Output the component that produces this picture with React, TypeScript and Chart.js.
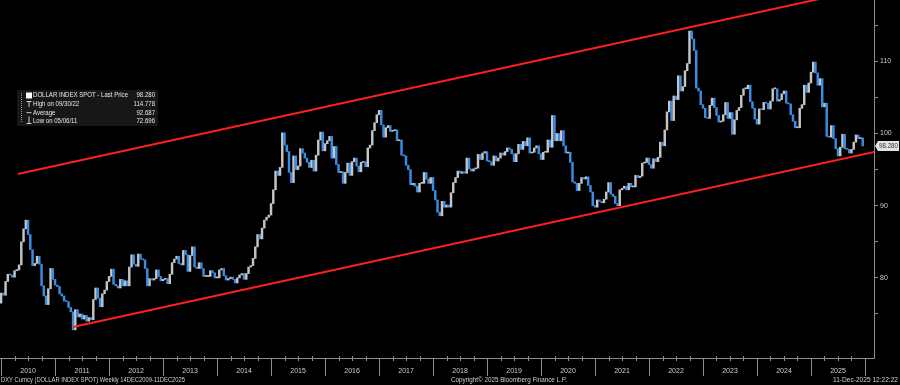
import React, { useEffect, useRef } from 'react';
import { Chart, registerables } from 'chart.js';

Chart.register(...registerables);

// Semi-monthly closes (mid-month, month-end) of DXY
const firstOpen = 76.2;
const dxy2009 = [76.5, 77.9];
const dxy2010 = [77.6, 79.5, 80.5, 80.4, 80.1, 81.0, 81.1, 81.8, 85.0, 86.8, 88.0, 86.0, 83.9, 81.7, 82.0, 83.0, 81.9, 78.9, 77.5, 76.3, 78.5, 81.3, 79.8, 79.0];
const dxy2011 = [78.8, 77.8, 77.5, 76.8, 76.7, 75.9, 75.3, 72.8, 75.6, 74.6, 75.0, 74.3, 74.8, 74.0, 74.5, 74.2, 77.0, 78.6, 77.2, 76.0, 77.8, 78.3, 79.5, 80.2];
const dxy2012 = [81.2, 79.1, 78.9, 78.6, 79.8, 78.9, 79.6, 78.9, 81.5, 83.2, 81.9, 81.6, 83.3, 82.6, 82.5, 81.3, 78.9, 79.9, 79.7, 79.9, 81.1, 80.2, 79.6, 79.8];
const dxy2013 = [79.9, 79.2, 80.5, 82.1, 82.6, 83.0, 82.0, 81.8, 83.8, 83.2, 80.9, 83.1, 84.3, 81.5, 81.3, 82.1, 81.3, 80.2, 80.2, 80.2, 81.0, 80.7, 80.0, 80.0];
const dxy2014 = [81.1, 81.3, 80.3, 79.7, 79.9, 80.1, 79.8, 79.3, 80.0, 80.4, 80.6, 79.8, 80.6, 81.5, 81.7, 82.7, 84.3, 86.0, 85.4, 86.9, 88.0, 88.4, 88.7, 90.3];
const dxy2015 = [92.2, 94.8, 94.2, 95.3, 100.1, 98.4, 97.5, 94.6, 93.2, 96.9, 95.0, 95.5, 97.9, 97.3, 96.6, 96.0, 95.3, 96.3, 94.8, 97.0, 99.1, 100.2, 97.6, 98.6];
const dxy2016 = [99.0, 99.6, 96.6, 98.2, 95.7, 94.6, 94.7, 93.1, 94.6, 95.9, 94.2, 96.1, 96.6, 95.5, 94.7, 96.0, 96.1, 95.4, 98.0, 98.4, 100.4, 101.5, 102.6, 103.2];
const dxy2017 = [101.2, 99.5, 100.8, 101.1, 100.3, 100.4, 100.5, 99.0, 99.1, 97.0, 96.9, 95.6, 95.0, 92.9, 93.1, 92.7, 91.9, 93.1, 93.1, 94.6, 93.7, 93.1, 93.9, 92.1];
const dxy2018 = [90.8, 89.1, 88.6, 90.6, 89.8, 90.1, 89.8, 91.8, 93.2, 93.9, 94.8, 94.5, 94.7, 94.5, 96.6, 95.1, 94.8, 95.1, 95.2, 97.1, 96.4, 97.3, 97.5, 96.2];
const dxy2019 = [96.1, 95.6, 96.9, 96.2, 96.6, 97.3, 97.0, 97.5, 98.0, 97.8, 97.2, 96.1, 97.2, 98.5, 97.8, 98.9, 98.3, 99.4, 97.3, 97.4, 98.0, 98.3, 97.2, 96.4];
const dxy2020 = [97.4, 97.4, 99.1, 98.1, 102.5, 99.0, 100.0, 99.0, 100.4, 98.3, 97.3, 97.4, 96.0, 93.3, 93.1, 92.1, 93.1, 93.9, 93.7, 94.0, 92.8, 91.9, 90.0, 89.8];
const dxy2021 = [90.8, 90.6, 90.4, 90.9, 91.9, 93.2, 91.6, 91.3, 90.3, 90.0, 92.2, 92.4, 92.7, 92.2, 93.1, 92.6, 92.6, 94.2, 93.9, 94.1, 95.9, 96.0, 96.6, 95.7];
const dxy2022 = [95.2, 96.5, 96.1, 96.7, 98.8, 98.3, 100.5, 103.0, 104.5, 101.8, 105.2, 104.7, 108.0, 105.9, 106.5, 108.7, 109.7, 114.2, 113.1, 111.5, 106.3, 105.9, 104.0, 103.5];
const dxy2023 = [102.2, 102.1, 103.9, 104.9, 103.6, 102.5, 101.6, 101.7, 102.6, 104.3, 102.1, 102.9, 99.9, 101.9, 103.2, 103.6, 105.3, 106.2, 106.2, 106.7, 104.4, 103.5, 102.0, 101.3];
const dxy2024 = [103.4, 103.3, 104.3, 104.2, 103.4, 104.5, 106.2, 106.2, 104.5, 104.7, 105.5, 105.9, 104.2, 104.1, 102.6, 101.7, 100.8, 100.8, 103.5, 104.0, 106.7, 105.7, 107.0, 108.5];
const dxy2025 = [109.9, 108.4, 106.7, 107.6, 103.7, 104.2, 99.6, 99.5, 101.1, 99.3, 97.9, 96.9, 98.1, 99.9, 97.9, 97.8, 97.3, 97.8, 98.8, 99.8, 99.3, 99.4, 98.28];

const seriesStart = 2009.958; // 15 Dec 2009 in fractional years
const seriesStep = 1 / 24;

const yearLabels = [2010, 2011, 2012, 2013, 2014, 2015, 2016, 2017, 2018, 2019, 2020, 2021, 2022, 2023, 2024, 2025];

const upperChannel = [
  { x: 2010.31, y: 94.4 },
  { x: 2026.17, y: 120.3 },
];
const lowerChannel = [
  { x: 2011.33, y: 73.2 },
  { x: 2026.17, y: 97.45 },
];

const legendLabels = ['DOLLAR INDEX SPOT - Last Price', 'High on 09/30/22', 'Average', 'Low on 05/06/11'];
const legendValues = ['98.280', '114.778', '92.687', '72.696'];
const lastPrice = 98.28;

const footerLeft = 'DXY Curncy (DOLLAR INDEX SPOT) Weekly 14DEC2009-11DEC2025';
const footerMid = 'Copyright\u00a9 2025 Bloomberg Finance L.P.';
const footerRight = '11-Dec-2025 12:22:22';

const FONT = '"Liberation Sans", Arial, sans-serif';
const AXIS = '#8c8c8c';
const TEXT = '#cfcfcf';
const UP = '#c4c4c4';
const DOWN = '#3a8de2';

// draws text squeezed horizontally by factor sx
function drawSqueezed(c: CanvasRenderingContext2D, text: string, x: number, y: number, sx: number, align: 'left' | 'right') {
  c.save();
  c.translate(x, y);
  c.scale(sx, 1);
  c.textAlign = align;
  c.fillText(text, 0, 0);
  c.restore();
}

export default function App() {
  const ref = useRef<HTMLCanvasElement>(null);

  useEffect(() => {
    document.body.style.margin = '0';
    document.body.style.background = '#000';
    const canvas = ref.current;
    if (!canvas) return;

    const closes = [
      ...dxy2009, ...dxy2010, ...dxy2011, ...dxy2012, ...dxy2013, ...dxy2014, ...dxy2015, ...dxy2016,
      ...dxy2017, ...dxy2018, ...dxy2019, ...dxy2020, ...dxy2021, ...dxy2022, ...dxy2023, ...dxy2024, ...dxy2025,
    ];
    const barData = closes.map((c, i) => {
      const o = i === 0 ? firstOpen : closes[i - 1];
      return { x: seriesStart + i * seriesStep, y: [Math.min(o, c), Math.max(o, c)] };
    });
    const barColors = closes.map((c, i) => {
      const o = i === 0 ? firstOpen : closes[i - 1];
      return c >= o ? UP : DOWN;
    });

    const overlay = {
      id: 'overlay',
      beforeDraw(chart: any) {
        const c = chart.ctx;
        c.save();
        c.fillStyle = '#000';
        c.fillRect(0, 0, chart.width, chart.height);
        c.restore();
      },
      afterDraw(chart: any) {
        const c = chart.ctx as CanvasRenderingContext2D;
        const { chartArea } = chart;
        const xs = chart.scales.x;
        const ys = chart.scales.y;
        const bottom = chartArea.bottom;
        c.save();
        c.strokeStyle = AXIS;
        c.lineWidth = 1;
        // year separators and quarterly ticks
        for (let yr = yearLabels[0]; yr <= yearLabels[yearLabels.length - 1] + 1; yr++) {
          const px = Math.round(xs.getPixelForValue(yr)) + 0.5;
          c.beginPath();
          c.moveTo(px, bottom);
          c.lineTo(px, bottom + 18);
          c.stroke();
          if (yr <= yearLabels[yearLabels.length - 1]) {
            for (let q = 1; q < 4; q++) {
              const qx = Math.round(xs.getPixelForValue(yr + q / 4)) + 0.5;
              c.beginPath();
              c.moveTo(qx, bottom - 2);
              c.lineTo(qx, bottom + 3);
              c.stroke();
            }
          }
        }
        // footer
        c.fillStyle = TEXT;
        c.font = `7px ${FONT}`;
        c.textBaseline = 'middle';
        const fl = c.measureText(footerLeft).width;
        drawSqueezed(c, footerLeft, 1, 380, 184 / fl, 'left');
        const fm = c.measureText(footerMid).width;
        drawSqueezed(c, footerMid, 451, 380, 116 / fm, 'left');
        const fr = c.measureText(footerRight).width;
        drawSqueezed(c, footerRight, 898, 380, 65 / fr, 'right');

        // legend box
        c.fillStyle = '#171717';
        c.fillRect(17, 90, 141, 36);
        const rowsY = [95.5, 104, 112.7, 121.3];
        c.font = `7px ${FONT}`;
        c.fillStyle = '#e6e6e6';
        const ls = 95 / c.measureText(legendLabels[0]).width;
        for (let i = 0; i < legendLabels.length; i++) {
          drawSqueezed(c, legendLabels[i], 33, rowsY[i], ls, 'left');
          drawSqueezed(c, legendValues[i], 155, rowsY[i], ls, 'right');
        }
        // legend icons
        c.strokeStyle = '#9a9a9a';
        c.setLineDash([1, 1]);
        c.beginPath();
        c.moveTo(21.5, 93);
        c.lineTo(21.5, 122);
        c.stroke();
        c.setLineDash([]);
        c.fillStyle = '#ffffff';
        c.fillRect(26, 92.5, 6, 6);
        c.strokeStyle = '#cfcfcf';
        c.beginPath();
        c.moveTo(26.5, 101.5); c.lineTo(31.5, 101.5);
        c.moveTo(29, 101.5); c.lineTo(29, 107);
        c.moveTo(26.5, 112.7); c.lineTo(31.5, 112.7);
        c.moveTo(29, 116.5); c.lineTo(29, 123.5);
        c.moveTo(26.5, 123.5); c.lineTo(31.5, 123.5);
        c.stroke();

        // last price tag
        const py = Math.round(ys.getPixelForValue(lastPrice));
        c.fillStyle = '#e2e2e2';
        c.beginPath();
        c.moveTo(875, py);
        c.lineTo(878, py - 5);
        c.lineTo(899, py - 5);
        c.lineTo(899, py + 5);
        c.lineTo(878, py + 5);
        c.closePath();
        c.fill();
        c.fillStyle = '#333';
        c.font = `7px ${FONT}`;
        const tag = lastPrice.toFixed(3);
        drawSqueezed(c, tag, 898, py + 0.5, 19 / c.measureText(tag).width, 'right');
        c.restore();
      },
    };

    const chart = new Chart(canvas, {
      type: 'bar',
      data: {
        datasets: [
          {
            type: 'line',
            data: upperChannel,
            borderColor: '#ff1f1f',
            borderWidth: 2,
            pointRadius: 0,
            fill: false,
          } as any,
          {
            type: 'line',
            data: lowerChannel,
            borderColor: '#ff1f1f',
            borderWidth: 2,
            pointRadius: 0,
            fill: false,
          } as any,
          {
            type: 'bar',
            data: barData as any,
            backgroundColor: barColors,
            borderWidth: 0,
            barThickness: 1.8,
            minBarLength: 1,
          } as any,
        ],
      },
      options: {
        responsive: false,
        animation: false,
        events: [],
        layout: { padding: 0 },
        plugins: { legend: { display: false }, tooltip: { enabled: false } },
        scales: {
          x: {
            type: 'linear',
            position: 'bottom',
            min: 2009.98,
            max: 2026.167,
            offset: false,
            grid: { display: true, drawOnChartArea: false, drawTicks: false, color: 'transparent' },
            border: { display: true, color: AXIS, width: 1 },
            afterBuildTicks: (scale: any) => {
              scale.ticks = yearLabels.map((yr) => ({ value: yr + 0.5 }));
            },
            afterFit: (scale: any) => {
              scale.height = 27;
              scale.paddingLeft = 0;
              scale.paddingRight = 0;
            },
            ticks: {
              autoSkip: false,
              maxRotation: 0,
              minRotation: 0,
              color: TEXT,
              padding: 9,
              font: { size: 7, family: FONT },
              callback: (_v: any, i: number) => String(yearLabels[i]),
            },
          } as any,
          y: {
            type: 'linear',
            position: 'right',
            min: 68.9,
            max: 118.5,
            beginAtZero: false,
            grid: {
              drawOnChartArea: false,
              drawTicks: true,
              tickLength: 4,
              tickColor: (ctx: any) => (ctx.tick && Math.abs(ctx.tick.value % 5) < 1e-6 ? AXIS : 'transparent'),
            },
            border: { display: true, color: AXIS, width: 1 },
            afterFit: (scale: any) => {
              scale.width = 26;
              scale.paddingTop = 0;
              scale.paddingBottom = 0;
            },
            ticks: {
              stepSize: 5,
              color: TEXT,
              padding: 2,
              font: { size: 7, family: FONT },
              callback: (v: any) => (Math.abs(Number(v) % 10) < 1e-6 ? String(v) : ''),
            },
          } as any,
        },
      },
      plugins: [overlay],
    });

    return () => chart.destroy();
  }, []);

  return (
    <div style={{ width: 900, height: 385, background: '#000' }}>
      <canvas ref={ref} width={900} height={385} style={{ display: 'block' }} />
    </div>
  );
}
